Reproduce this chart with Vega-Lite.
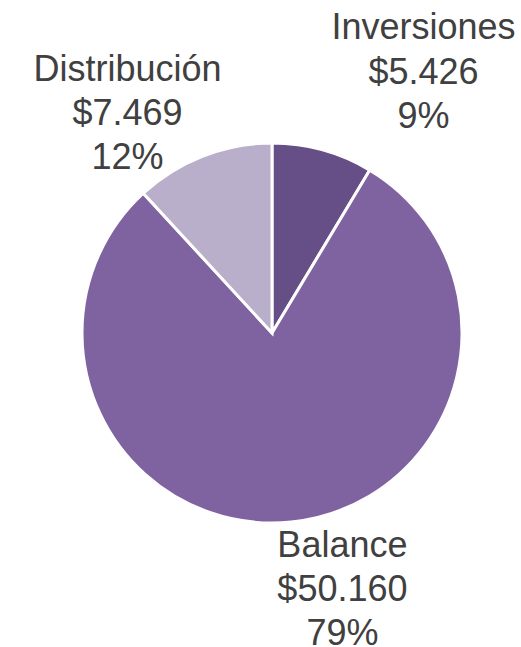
{
  "$schema": "https://vega.github.io/schema/vega-lite/v6.json",
  "width": 498,
  "height": 628,
  "autosize": "none",
  "padding": {"left": 23, "top": 19, "right": 0, "bottom": 0},
  "background": "white",
  "view": {"stroke": null},
  "data": {
    "values": [
      {"idx": 1, "cat": "Inversiones", "value": 5426, "label": "Inversiones\n$5.426\n9%"},
      {"idx": 2, "cat": "Balance", "value": 50160, "label": "Balance\n$50.160\n79%"},
      {"idx": 3, "cat": "Distribución", "value": 7469, "label": "Distribución\n$7.469\n12%"}
    ]
  },
  "encoding": {
    "theta": {"field": "value", "type": "quantitative", "stack": true},
    "order": {"field": "idx", "type": "quantitative"}
  },
  "layer": [
    {
      "mark": {"type": "arc", "radius": 190, "stroke": "white", "strokeWidth": 3},
      "encoding": {
        "color": {
          "field": "cat",
          "type": "nominal",
          "scale": {"domain": ["Inversiones", "Balance", "Distribución"], "range": ["#664f86", "#7f63a0", "#b9afca"]},
          "legend": null
        }
      }
    },
    {
      "mark": {"type": "text", "radius": 260, "dx": 82, "dy": -54, "font": "Liberation Sans", "fontSize": 36, "lineHeight": 44.5, "lineBreak": "\n", "color": "#404040", "align": "center", "baseline": "middle"},
      "encoding": {"text": {"condition": {"test": "datum.cat === 'Inversiones'", "field": "label"}, "value": ""}}
    },
    {
      "mark": {"type": "text", "radius": 260, "dx": 44, "dy": -46, "font": "Liberation Sans", "fontSize": 36, "lineHeight": 44, "lineBreak": "\n", "color": "#404040", "align": "center", "baseline": "middle"},
      "encoding": {"text": {"condition": {"test": "datum.cat === 'Balance'", "field": "label"}, "value": ""}}
    },
    {
      "mark": {"type": "text", "radius": 260, "dx": -50, "dy": -21, "font": "Liberation Sans", "fontSize": 36, "lineHeight": 44, "lineBreak": "\n", "color": "#404040", "align": "center", "baseline": "middle"},
      "encoding": {"text": {"condition": {"test": "datum.cat === 'Distribución'", "field": "label"}, "value": ""}}
    }
  ]
}
